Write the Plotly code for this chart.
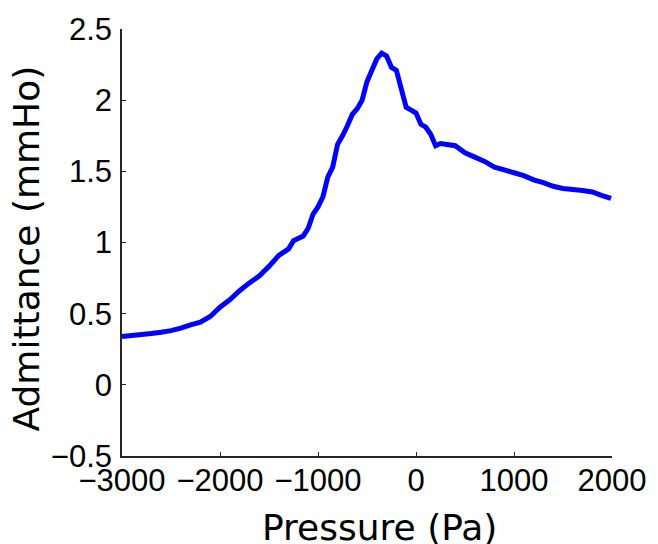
import plotly.graph_objects as go

pressure = [-3000, -2900, -2800, -2700, -2600, -2500, -2400, -2300, -2200, -2100,
            -2000, -1900, -1800, -1700, -1600, -1500, -1400, -1300, -1250, -1150,
            -1100, -1050, -1000, -950, -900, -850, -800, -750, -700, -650,
            -600, -550, -500, -450, -400, -350, -300, -250, -200, -150,
            -100, -50, 0, 50, 100, 150, 200, 250, 300, 400,
            500, 600, 700, 800, 900, 1000, 1100, 1200, 1300, 1400,
            1500, 1600, 1700, 1800, 1900, 1990]
admittance = [0.340, 0.347, 0.354, 0.361, 0.370, 0.381, 0.398, 0.421, 0.440, 0.480,
              0.545, 0.597, 0.661, 0.716, 0.765, 0.832, 0.909, 0.955, 1.012, 1.046,
              1.10, 1.20, 1.25, 1.32, 1.46, 1.53, 1.69, 1.75, 1.82, 1.90,
              1.94, 2.00, 2.13, 2.21, 2.29, 2.33, 2.31, 2.23, 2.21, 2.08,
              1.95, 1.93, 1.91, 1.83, 1.81, 1.76, 1.68, 1.695, 1.69, 1.68,
              1.63, 1.60, 1.57, 1.53, 1.51, 1.49, 1.47, 1.44, 1.42, 1.395,
              1.38, 1.373, 1.365, 1.355, 1.33, 1.31]

x_ticks = [-3000, -2000, -1000, 0, 1000, 2000]
x_ticktext = ["\u22123000", "\u22122000", "\u22121000", "0", "1000", "2000"]
y_ticks = [-0.5, 0, 0.5, 1, 1.5, 2, 2.5]
y_ticktext = ["\u22120.5", "0", "0.5", "1", "1.5", "2", "2.5"]

x_title = "Pressure (Pa)"
y_title = "Admittance (mmHo)"

fig = go.Figure()
fig.add_trace(go.Scatter(x=pressure, y=admittance, mode="lines",
                         line=dict(color="#0000FF", width=5, simplify=False)))

axis_common = dict(showline=True, linecolor="#262626", linewidth=1.5,
                   ticks="inside", ticklen=4, tickcolor="#262626", tickwidth=1.2,
                   showgrid=False, zeroline=False, mirror=False,
                   tickfont=dict(family="Liberation Sans, Arial", size=31, color="black"))

fig.update_layout(
    width=658, height=544,
    margin=dict(l=122, r=43, t=21, b=88),
    paper_bgcolor="white", plot_bgcolor="white",
    showlegend=False,
    xaxis=dict(range=[-3000, 2000], tickvals=x_ticks, ticktext=x_ticktext,
               ticklabelstandoff=-4, **axis_common),
    yaxis=dict(range=[-0.5, 2.5], tickvals=y_ticks, ticktext=y_ticktext,
               ticklabelstandoff=2, **axis_common),
    annotations=[
        dict(text=x_title, xref="paper", yref="paper", x=0.525, y=-0.168,
             xanchor="center", yanchor="middle", showarrow=False,
             font=dict(family="DejaVu Sans", size=36, color="black")),
        dict(text=y_title, xref="paper", yref="paper", x=-0.195, y=0.487,
             xanchor="center", yanchor="middle", showarrow=False, textangle=-90,
             font=dict(family="DejaVu Sans", size=36, color="black")),
    ],
)

fig.write_html("out.html")
